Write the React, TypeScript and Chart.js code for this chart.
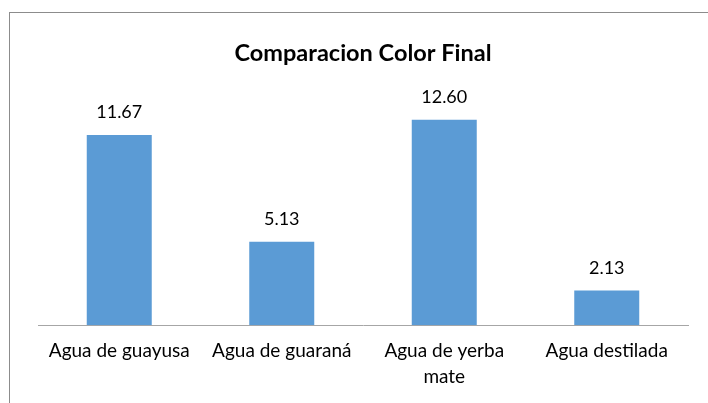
import React, { useEffect, useRef } from "react";
import { Chart, registerables } from "chart.js";
Chart.register(...registerables);

const title = "Comparacion Color Final";
const categories: (string | string[])[] = [
  "Agua de guayusa",
  "Agua de guaraná",
  ["Agua de yerba", "mate"],
  "Agua destilada",
];
const values = [11.67, 5.13, 12.6, 2.13];
const valueLabels = ["11.67", "5.13", "12.60", "2.13"];

const FONT = "Lato, 'Open Sans', sans-serif";

const framePlugin = {
  id: "frame",
  beforeDraw(chart: any) {
    const ctx = chart.ctx;
    ctx.save();
    ctx.fillStyle = "#ffffff";
    ctx.fillRect(0, 0, chart.width, chart.height);
    ctx.strokeStyle = "#8c8c8c";
    ctx.lineWidth = 1;
    ctx.strokeRect(9.5, 12.5, chart.width + 20, chart.height + 20);
    ctx.fillStyle = "#000000";
    ctx.font = `bold 23.5px ${FONT}`;
    ctx.textAlign = "center";
    ctx.textBaseline = "alphabetic";
    ctx.fillText(title, 363, 61);
    ctx.restore();
  },
  afterDatasetsDraw(chart: any) {
    const ctx = chart.ctx;
    const meta = chart.getDatasetMeta(0);
    ctx.save();
    ctx.fillStyle = "#000000";
    ctx.font = `18px ${FONT}`;
    ctx.textAlign = "center";
    ctx.textBaseline = "alphabetic";
    meta.data.forEach((bar: any, i: number) => {
      ctx.fillText(valueLabels[i], bar.x, bar.y - 17);
    });
    ctx.restore();
  },
};

export default function App() {
  const ref = useRef<HTMLCanvasElement>(null);
  useEffect(() => {
    const chart = new Chart(ref.current!, {
      type: "bar",
      data: {
        labels: categories,
        datasets: [
          {
            data: values,
            backgroundColor: "#5B9BD5",
            borderWidth: 0,
            categoryPercentage: 0.4,
            barPercentage: 1,
          },
        ],
      },
      options: {
        animation: false,
        responsive: false,
        layout: { padding: { left: 38, right: 20, top: 97, bottom: 0 } },
        plugins: { legend: { display: false }, tooltip: { enabled: false } },
        scales: {
          y: { display: false, min: 0, max: 14 },
          x: {
            grid: { display: false, drawTicks: false },
            border: { display: true, color: "#a6a6a6", width: 1 },
            ticks: {
              color: "#000000",
              font: { family: FONT, size: 19, lineHeight: 1.36 },
              padding: 13,
              maxRotation: 0,
              autoSkip: false,
            },
          },
        },
      },
      plugins: [framePlugin],
    });
    return () => chart.destroy();
  }, []);
  return (
    <div style={{ position: "fixed", left: 0, top: 0, width: 708, height: 403, background: "#fff" }}>
      <canvas ref={ref} width={708} height={403} style={{ display: "block" }} />
    </div>
  );
}
